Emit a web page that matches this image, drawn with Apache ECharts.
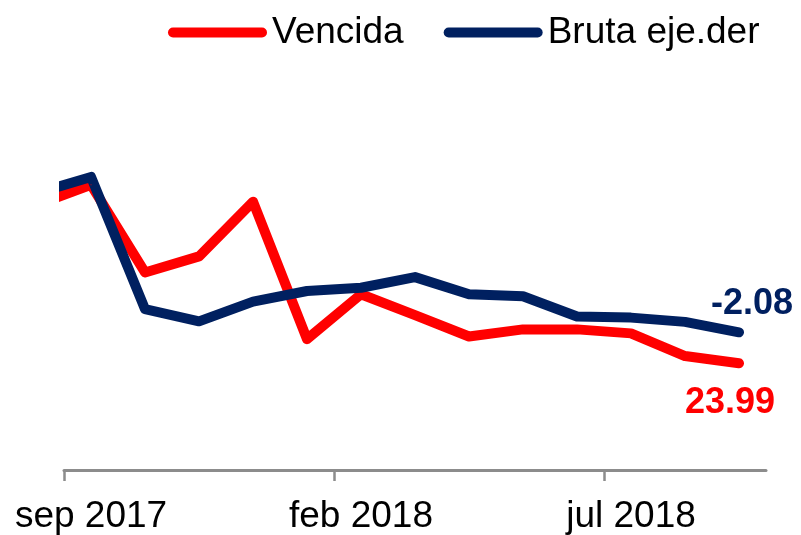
<!DOCTYPE html>
<html>
<head>
<meta charset="utf-8">
<script src="https://cdn.jsdelivr.net/npm/echarts@6/dist/echarts.min.js"></script>
<style>
  html, body { margin: 0; padding: 0; background: #fff; }
  #chart { width: 801px; height: 535px; }
</style>
</head>
<body>
<div id="chart"></div>
<script>
// meses (el primero queda fuera del eje, solo se ve el tramo que entra)
const months = ['ago 2017', 'sep 2017', 'oct 2017', 'nov 2017', 'dic 2017', 'ene 2018', 'feb 2018',
  'mar 2018', 'abr 2018', 'may 2018', 'jun 2018', 'jul 2018', 'ago 2018', 'sep 2018']
const tickMonths = ['sep 2017', 'feb 2018', 'jul 2018']
const vencida = [59.6, 64.1, 44.4, 48.0, 60.3, 29.4, 39.5, 34.8, 30.0, 31.6, 31.6, 30.7, 25.6, 23.99]
const bruta = [11.0, 12.5, 0.1, -1.05, 0.8, 1.8, 2.1, 3.1, 1.5, 1.3, -0.6, -0.7, -1.1, -2.08]

const FONT = 'Liberation Sans, Arial, sans-serif'
const RED = '#ff0000'
const NAVY = '#002060'

// posicion x: centro de cada mes, el primer mes visible empieza en 0
const xOf = i => i - 0.5
const tickPos = tickMonths.map(m => months.indexOf(m) - 1)
const labelPos = tickMonths.map(m => xOf(months.indexOf(m)))

function toData(values, color, offset) {
  const last = values.length - 1
  return values.map((v, i) => {
    if (i !== last) return [xOf(i), v]
    return {
      value: [xOf(i), v],
      label: {
        show: true,
        position: 'inside',
        offset: offset,
        formatter: p => p.value[1].toFixed(2),
        color: color,
        fontFamily: FONT,
        fontWeight: 'bold',
        fontSize: 36
      }
    }
  })
}

const chart = echarts.init(document.getElementById('chart'))
chart.setOption({
  animation: false,
  legend: {
    data: ['Vencida', 'Bruta eje.der'],
    left: 168,
    top: 14,
    padding: 0,
    itemWidth: 99,
    itemHeight: 10,
    itemGap: 40,
    icon: 'path://M5,0 H94 A5,5 0 0 1 94,10 H5 A5,5 0 0 1 5,0 Z',
    textStyle: { fontFamily: FONT, fontSize: 37, color: '#000' }
  },
  grid: { left: 64, right: 35, top: 25, bottom: 64 },
  xAxis: {
    type: 'value',
    min: 0,
    max: months.length - 1,
    splitLine: { show: false },
    axisLine: { show: true, onZero: false, lineStyle: { color: '#8c8c8c', width: 3 } },
    axisTick: { show: true, length: 11, customValues: tickPos, lineStyle: { color: '#8c8c8c', width: 2.5 } },
    axisLabel: {
      customValues: labelPos,
      formatter: v => months[Math.round(v + 0.5)],
      margin: 28,
      fontFamily: FONT,
      fontSize: 37,
      color: '#000'
    }
  },
  yAxis: [
    { type: 'value', min: 0, max: 100, show: false },
    { type: 'value', min: -15, max: 26.76, show: false }
  ],
  series: [
    {
      name: 'Vencida',
      type: 'line',
      yAxisIndex: 0,
      symbol: 'circle',
      symbolSize: 1,
      showAllSymbol: true,
      itemStyle: { color: RED },
      lineStyle: { color: RED, width: 10, cap: 'round', join: 'round' },
      data: toData(vencida, RED, [-9, 40])
    },
    {
      name: 'Bruta eje.der',
      type: 'line',
      yAxisIndex: 1,
      symbol: 'circle',
      symbolSize: 1,
      showAllSymbol: true,
      itemStyle: { color: NAVY },
      lineStyle: { color: NAVY, width: 10, cap: 'round', join: 'round' },
      data: toData(bruta, NAVY, [13, -28])
    }
  ]
})
</script>
</body>
</html>
